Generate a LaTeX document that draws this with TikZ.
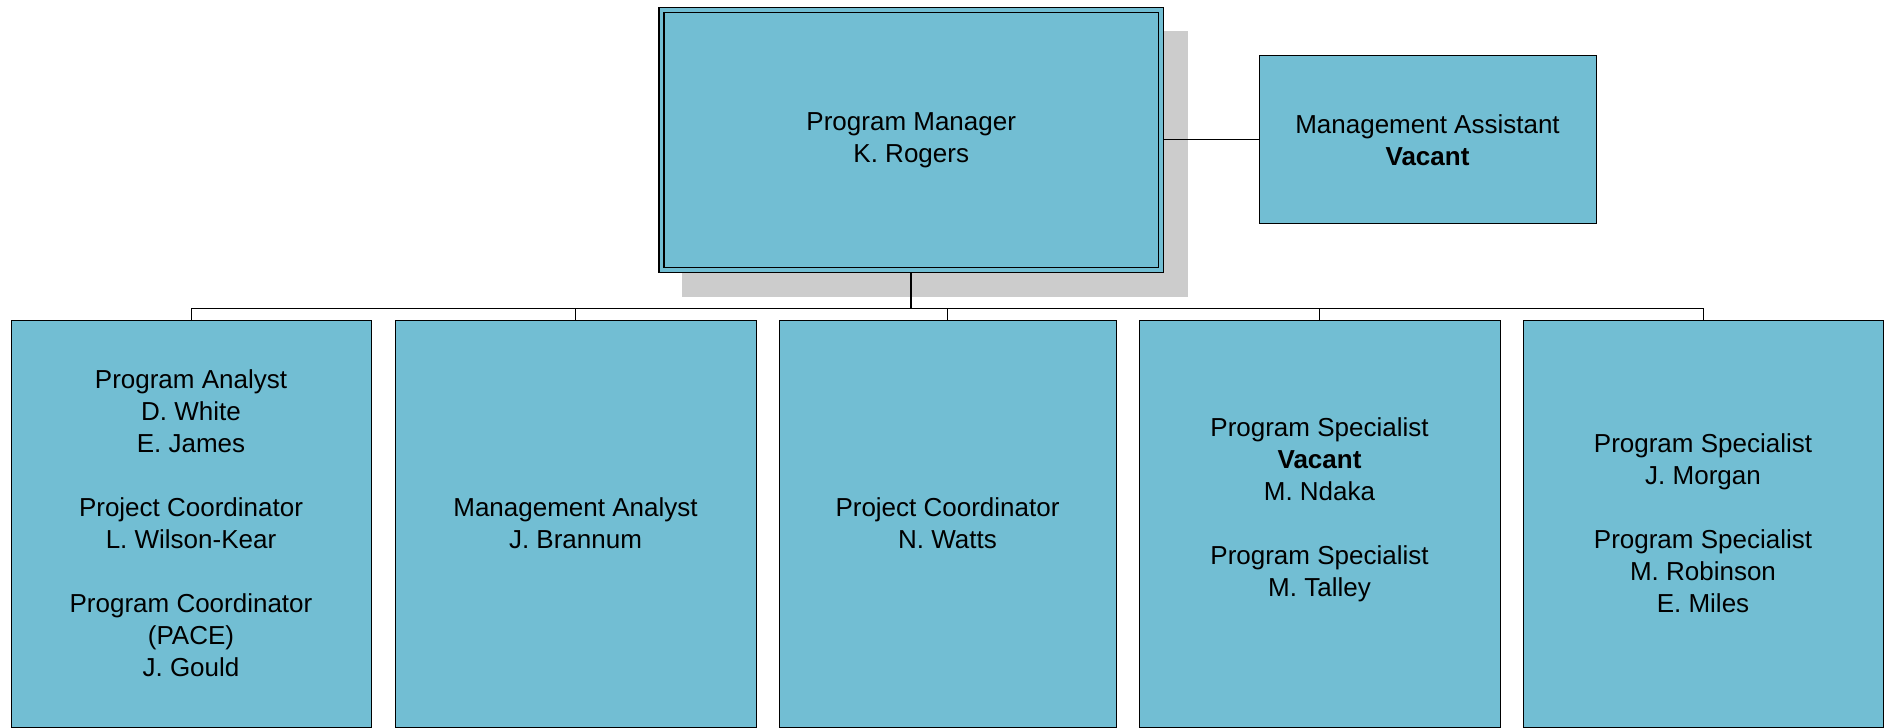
\documentclass[tikz,border=0pt]{standalone}
\usepackage{fontspec}
\setmainfont{Liberation Sans}
\definecolor{boxfill}{RGB}{114,190,211}
\definecolor{shadowgray}{RGB}{204,204,204}
\begin{document}
\begin{tikzpicture}[x=1pt,y=-1pt,
  box/.style={rectangle,draw=black,fill=boxfill,line width=1pt,inner sep=0pt,outer sep=0pt,
    align=center,font=\fontsize{26}{32}\selectfont},
  trunk/.style={line width=2pt},
  busline/.style={line width=1.5pt},
  drop/.style={line width=1pt}]
\useasboundingbox (0,0) rectangle (1888,728);
% shadow of top box
\fill[shadowgray] (682,31) rectangle (1188,297);
% top box (double border)
\node[box,line width=1.6pt,minimum width=504.5pt,minimum height=265pt] (pm) at (911.25,139.8)
  {Program Manager\\K. Rogers};
\draw[line width=1.4pt] ([shift={(5,5)}]pm.north west) rectangle ([shift={(-5,-5)}]pm.south east);
% management assistant
\node[box,minimum width=337pt,minimum height=168pt] (ma) at (1427.5,139.8)
  {Management Assistant\\\bfseries Vacant};
% children
\node[box,minimum width=360pt,minimum height=407pt] (c1) at (191,523.5)
  {Program Analyst\\D. White\\E. James\\[32pt]Project Coordinator\\L. Wilson-Kear\\[32pt]Program Coordinator\\(PACE)\\J. Gould};
\node[box,minimum width=361pt,minimum height=407pt] (c2) at (575.5,523.5)
  {Management Analyst\\J. Brannum};
\node[box,minimum width=337pt,minimum height=407pt] (c3) at (947.5,523.5)
  {Project Coordinator\\N. Watts};
\node[box,minimum width=361pt,minimum height=407pt] (c4) at (1319.5,523.5)
  {Program Specialist\\\textbf{Vacant}\\M. Ndaka\\[32pt]Program Specialist\\M. Talley\\\mbox{}};
\node[box,minimum width=360pt,minimum height=407pt] (c5) at (1703,523.5)
  {Program Specialist\\J. Morgan\\[32pt]Program Specialist\\M. Robinson\\E. Miles};
% connectors
\coordinate (bus) at (911.25,308.3);
\draw[drop] (pm.east) -- (ma.west);
\draw[trunk] (pm.south) -- (bus);
\draw[busline] (c1.north |- bus) -- (c5.north |- bus);
\foreach \c in {c1,c2,c3,c4,c5}
  \draw[drop] (\c.north |- bus) -- (\c.north);
\end{tikzpicture}
\end{document}
